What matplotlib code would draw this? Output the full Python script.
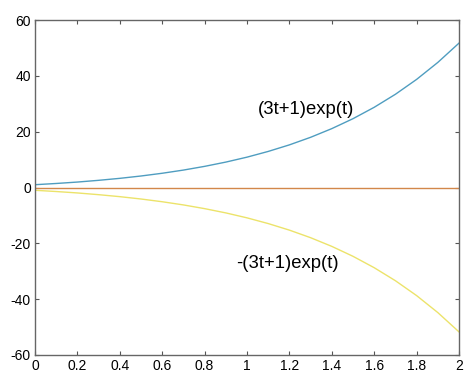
import numpy as np
import matplotlib.pyplot as plt

plt.rcParams['font.family'] = ['Liberation Sans', 'DejaVu Sans']
plt.rcParams['axes.unicode_minus'] = False

# values
t = [0.0, 0.1, 0.2, 0.3, 0.4, 0.5, 0.6, 0.7, 0.8, 0.9, 1.0,
     1.1, 1.2, 1.3, 1.4, 1.5, 1.6, 1.7, 1.8, 1.9, 2.0]
upper = [1.0, 1.44, 1.95, 2.57, 3.28, 4.12, 5.10, 6.24, 7.57, 9.10, 10.87,
         12.92, 15.27, 17.98, 21.09, 24.65, 28.73, 33.39, 38.72, 44.80, 51.72]
lower = [-v for v in upper]
zero = [0.0] * len(t)

fig = plt.figure(figsize=(4.68, 3.82), dpi=100)
ax = fig.add_axes([35 / 468, 1 - 355 / 382, 424 / 468, 335 / 382])

ax.plot(t, upper, color='#4f9dc0', lw=1.0)
ax.plot(t, zero, color='#d2874a', lw=1.0)
ax.plot(t, lower, color='#ece36a', lw=1.0)

ax.text(1.05, 28, '(3t+1)exp(t)', fontsize=13.3, va='center', ha='left')
ax.text(0.95, -27.2, '-(3t+1)exp(t)', fontsize=13.3, va='center', ha='left')

ax.set_xlim(0, 2)
ax.set_ylim(-60, 60)
ax.set_xticks(np.arange(0, 2.01, 0.2))
ax.set_xticklabels(['0', '0.2', '0.4', '0.6', '0.8', '1', '1.2', '1.4', '1.6', '1.8', '2'])
ax.set_yticks(np.arange(-60, 61, 20))
ax.tick_params(direction='in', top=True, right=True, length=3, width=0.8,
               labelsize=10, pad=3, colors='#555555', labelcolor='black')
for s in ax.spines.values():
    s.set_color('#666666')
    s.set_linewidth(1.0)

fig.savefig('out.png', dpi=100)
